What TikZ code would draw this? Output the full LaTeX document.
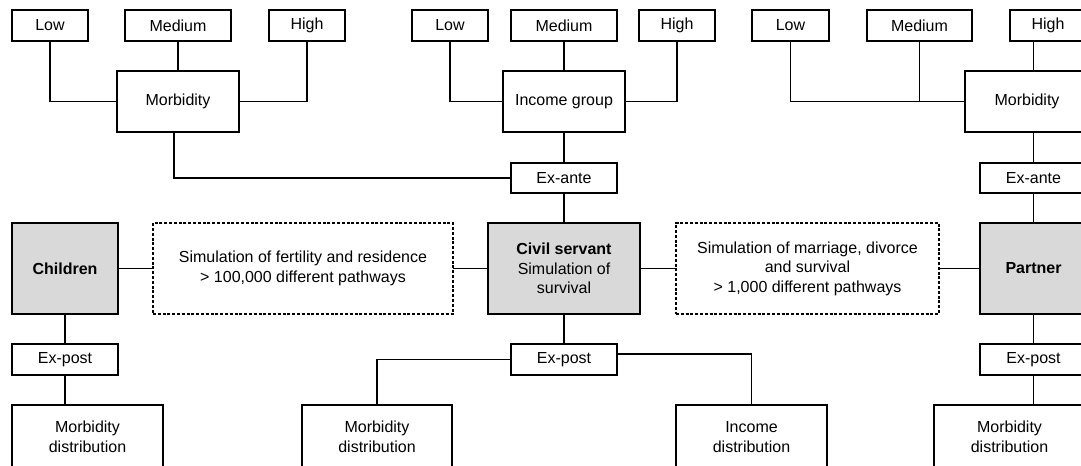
\documentclass[tikz,border=0pt]{standalone}
\usepackage{fontspec}
\setmainfont{Liberation Sans}
\definecolor{boxgray}{RGB}{217,217,217}
\begin{document}
\begin{tikzpicture}[x=0.75pt,y=-0.75pt,
  box/.style={draw=black,line width=1pt,fill=white,inner sep=0pt,outer sep=0pt,align=center,
    font=\fontsize{12}{14.6}\selectfont},
  actor/.style={box,fill=boxgray},
  sim/.style={box,draw=black,dash pattern=on 2.2pt off 1.4pt},
  link/.style={line width=1pt}]
\useasboundingbox (0,0) rectangle (1081,466);
\clip (0,0) rectangle (1081,466);
% left tree
\node[box,minimum width=57pt,minimum height=23.25pt] (lowA) at (50,25.5) {Low};
\node[box,minimum width=79.5pt,minimum height=23.25pt] (medA) at (178,25.5) {Medium};
\node[box,minimum width=57pt,minimum height=23.25pt] (highA) at (307,25.5) {High};
\node[box,minimum width=91.5pt,minimum height=45.75pt] (morbA) at (178,101.5) {Morbidity};
% middle tree
\node[box,minimum width=57pt,minimum height=23.25pt] (lowB) at (450,25.5) {Low};
\node[box,minimum width=79.5pt,minimum height=23.25pt] (medB) at (564,25.5) {Medium};
\node[box,minimum width=57pt,minimum height=23.25pt] (highB) at (677,25.5) {High};
\node[box,minimum width=91.5pt,minimum height=45.75pt] (incB) at (564,101.5) {Income group};
\node[box,minimum width=79.5pt,minimum height=22.5pt] (exA) at (564,178) {Ex-ante};
% right tree
\node[box,minimum width=57.75pt,minimum height=23.25pt] (lowC) at (790.5,25.5) {Low};
\node[box,minimum width=78.75pt,minimum height=23.25pt] (medC) at (919.5,25.5) {Medium};
\node[box,minimum width=57pt,minimum height=23.25pt] (highC) at (1048,25.5) {High};
\node[box,minimum width=93pt,minimum height=45.75pt] (morbC) at (1027,101.5) {Morbidity};
\node[box,minimum width=80.25pt,minimum height=22.5pt] (exC) at (1033.5,178) {Ex-ante};
% middle row
\node[actor,minimum width=79.5pt,minimum height=68.25pt] (children) at (65,268.5) {\textbf{Children}};
\node[sim,minimum width=225pt,minimum height=68.25pt] (simL) at (303,268.5) {Simulation of fertility and residence\\> 100,000 different pathways};
\node[actor,minimum width=114pt,minimum height=68.25pt] (civil) at (564,268.5) {\textbf{Civil servant}\\Simulation of\\survival};
\node[sim,minimum width=197.25pt,minimum height=68.25pt] (simR) at (807.5,268.5) {Simulation of marriage, divorce\\and survival\\> 1,000 different pathways};
\node[actor,minimum width=80.25pt,minimum height=68.25pt] (partner) at (1033.5,268.5) {\textbf{Partner}};
% ex-post row
\node[box,minimum width=79.5pt,minimum height=23.25pt] (exPL) at (65,359.5) {Ex-post};
\node[box,minimum width=79.5pt,minimum height=23.25pt] (exP) at (564,359.5) {Ex-post};
\node[box,minimum width=80.25pt,minimum height=23.25pt] (exPC) at (1033.5,359.5) {Ex-post};
% distributions
\node[box,minimum width=113.25pt,minimum height=48pt] (mdA) at (87.5,437) {Morbidity\\distribution};
\node[box,minimum width=112.5pt,minimum height=48pt] (mdB) at (377,437) {Morbidity\\distribution};
\node[box,minimum width=113.25pt,minimum height=48pt] (idB) at (751.5,437) {Income\\distribution};
\node[box,minimum width=113.25pt,minimum height=48pt] (mdC) at (1009.5,437) {Morbidity\\distribution};
% connectors left tree
\draw[link] (lowA.south) |- (morbA.west);
\draw[link] (medA.south) -- (morbA.north);
\draw[link] (highA.south) |- (morbA.east);
\draw[link] ([xshift=-3pt]morbA.south) |- (exA.west);
% middle tree
\draw[link] (lowB.south) |- (incB.west);
\draw[link] (medB.south) -- (incB.north);
\draw[link] (highB.south) |- (incB.east);
\draw[link] (incB.south) -- (exA.north);
\draw[link] (exA.south) -- (civil.north);
% right tree
\draw[link] (lowC.south) |- (morbC.west);
\draw[link] (medC.south) -- (medC.south |- morbC.west);
\draw[link] (highC.south -| exC.north) -- (exC.north |- morbC.north);
\draw[link] (exC.north |- morbC.south) -- (exC.north);
\draw[link] (exC.south) -- (partner.north);
% middle row
\draw[link] (children.east) -- (simL.west);
\draw[link] (simL.east) -- (civil.west);
\draw[link] (civil.east) -- (simR.west);
\draw[link] (simR.east) -- (partner.west);
% lower
\draw[link] (children.south) -- (exPL.north);
\draw[link] (exPL.south) -- (exPL.south |- mdA.north);
\draw[link] (civil.south) -- (exP.north);
\draw[link] (exP.west) -| (mdB.north);
\draw[link] ([yshift=4pt]exP.east) -| (idB.north);
\draw[link] (partner.south) -- (exPC.north);
\draw[link] (exPC.south) -- (exPC.south |- mdC.north);
\end{tikzpicture}
\end{document}
